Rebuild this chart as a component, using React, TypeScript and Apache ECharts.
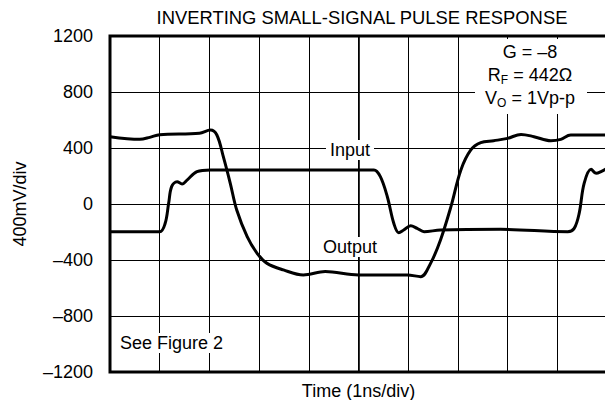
import React, { useEffect, useRef } from "react";
import * as echarts from "echarts";

const title = "INVERTING SMALL-SIGNAL PULSE RESPONSE";
const yAxisName = "400mV/div";
const xAxisName = "Time (1ns/div)";
const yTicks = [-1200, -800, -400, 0, 400, 800, 1200];

// Output trace (time in divisions, mV)
const outputX = [0, 0.6, 0.8, 1.0, 1.8, 2.02, 2.15, 2.28, 2.42, 2.55, 2.76, 2.96, 3.16, 3.49, 3.89, 4.33, 5.0, 5.98, 6.25, 6.45, 6.65, 6.86, 7.06, 7.26, 7.46, 7.72, 8.0, 8.27, 8.53, 8.87, 9.07, 9.27, 10.0];
const outputY = [481, 462, 476, 495, 505, 528, 493, 338, 148, -43, -233, -352, -424, -471, -507, -483, -507, -507, -519, -424, -257, -19, 243, 386, 438, 452, 469, 497, 481, 452, 462, 493, 493];

// Input trace
const inputX = [0, 1.0, 1.11, 1.18, 1.24, 1.35, 1.45, 1.55, 1.75, 2.02, 5.31, 5.44, 5.58, 5.71, 5.81, 5.91, 6.05, 6.18, 6.32, 6.65, 7.86, 9.21, 9.34, 9.44, 9.54, 9.68, 9.78, 9.88, 10.0];
const inputY = [-198, -198, -138, 5, 124, 159, 143, 171, 231, 243, 243, 195, 52, -138, -205, -186, -155, -174, -198, -186, -181, -198, -174, -67, 148, 248, 219, 231, 255];

const FONT = "'Liberation Sans', Arial, sans-serif";
const FS = 18;

export default function App() {
  const ref = useRef<HTMLDivElement>(null);
  useEffect(() => {
    if (!ref.current) return;
    const chart = echarts.init(ref.current, null, { renderer: "svg" });
    const lineStyle = { color: "#000", width: 3 };
    chart.setOption({
      animation: false,
      backgroundColor: "#fff",
      textStyle: { fontFamily: FONT, color: "#000" },
      title: {
        text: title,
        left: 357,
        top: 3,
        textAlign: "center",
        textStyle: { fontFamily: FONT, fontSize: 18.4, fontWeight: "normal", color: "#000" },
      },
      grid: {
        left: 110,
        right: 6,
        top: 36,
        bottom: 36,
        show: true,
        borderColor: "#000",
        borderWidth: 3,
        backgroundColor: "transparent",
      },
      xAxis: {
        type: "value",
        min: 0,
        max: 10,
        interval: 1,
        name: xAxisName,
        nameLocation: "middle",
        nameGap: 10,
        nameTextStyle: { fontFamily: FONT, fontSize: FS, color: "#000" },
        axisLine: { show: false },
        axisTick: { show: false },
        axisLabel: { show: false },
        splitLine: { show: true, lineStyle: { color: "#000", width: 1 } },
      },
      yAxis: {
        type: "value",
        min: yTicks[0],
        max: yTicks[yTicks.length - 1],
        interval: 400,
        name: yAxisName,
        nameLocation: "middle",
        nameGap: 81,
        nameTextStyle: { fontFamily: FONT, fontSize: FS, color: "#000" },
        axisLine: { show: false },
        axisTick: { show: false },
        axisLabel: {
          fontFamily: FONT,
          fontSize: FS,
          color: "#000",
          margin: 17,
          formatter: (v: number) => (v < 0 ? "\u2013" + Math.abs(v) : String(v)),
        },
        splitLine: { show: true, lineStyle: { color: "#000", width: 1 } },
      },
      series: [
        {
          name: "Output",
          type: "line",
          smooth: 0.35,
          showSymbol: false,
          lineStyle,
          data: outputX.map((x, i) => [x, outputY[i]]),
          markLine: {
            silent: true,
            symbol: "none",
            label: { show: false },
            lineStyle: { color: "#000", width: 1.6, type: "solid" },
            data: [{ xAxis: 5 }],
          },
        },
        {
          name: "Input",
          type: "line",
          smooth: 0.35,
          showSymbol: false,
          lineStyle,
          data: inputX.map((x, i) => [x, inputY[i]]),
        },
      ],
      graphic: [
        {
          type: "rect",
          shape: { x: 475, y: 39, width: 112, height: 75 },
          style: { fill: "#fff" },
          z: 100,
        },
        {
          type: "text",
          x: 530,
          y: 40,
          z: 101,
          style: {
            text: "{n|G = \u20138}\n{n|R}{s|F}{n| = 442\u03A9}\n{n|V}{s|O}{n| = 1Vp-p}",
            align: "center",
            verticalAlign: "top",
            rich: {
              n: { fontFamily: FONT, fontSize: FS, lineHeight: 23, verticalAlign: "middle", fill: "#000" },
              s: { fontFamily: FONT, fontSize: 12, lineHeight: 13, verticalAlign: "bottom", fill: "#000" },
            },
          },
        },
        {
          type: "text",
          x: 350,
          y: 150,
          z: 101,
          style: {
            text: "Input",
            align: "center",
            verticalAlign: "middle",
            font: FS + "px " + FONT,
            fill: "#000",
            backgroundColor: "#fff",
            padding: [1, 4, 1, 4],
          },
        },
        {
          type: "text",
          x: 350,
          y: 247,
          z: 101,
          style: {
            text: "Output",
            align: "center",
            verticalAlign: "middle",
            font: FS + "px " + FONT,
            fill: "#000",
            backgroundColor: "#fff",
            padding: [1, 4, 1, 4],
          },
        },
        {
          type: "text",
          x: 118,
          y: 343,
          z: 101,
          style: {
            text: "See Figure 2",
            align: "left",
            verticalAlign: "middle",
            font: FS + "px " + FONT,
            fill: "#000",
            backgroundColor: "#fff",
            padding: [1, 2, 1, 2],
          },
        },
      ],
    });
    return () => chart.dispose();
  }, []);
  return <div ref={ref} style={{ width: 613, height: 408, margin: -8 }} />;
}
